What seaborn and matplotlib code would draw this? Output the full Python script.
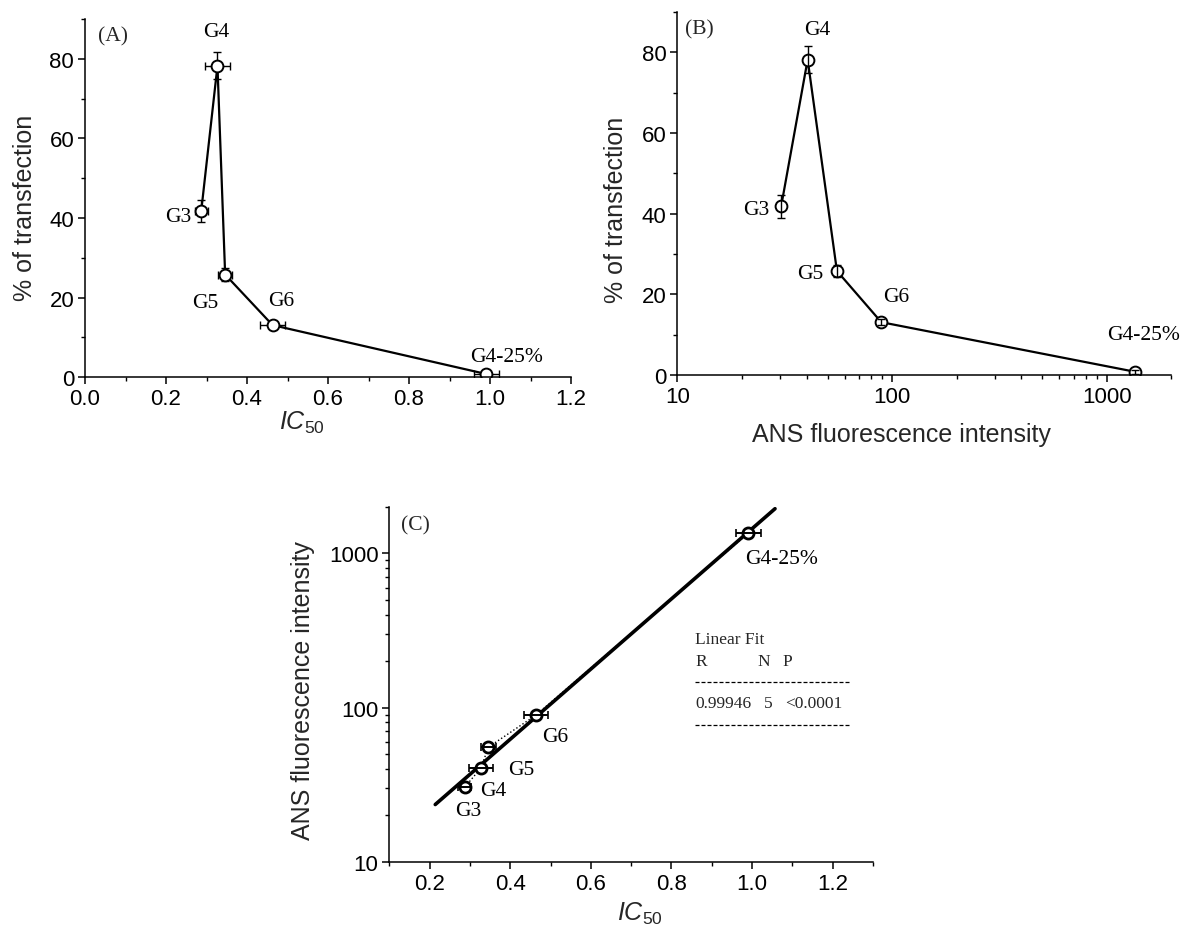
import numpy as np
import pandas as pd
import matplotlib
matplotlib.use("Agg")
import matplotlib.pyplot as plt
import matplotlib.ticker as mticker
import seaborn as sns

# ---- data -------------------------------------------------------------
labels = ["G3", "G4", "G5", "G6", "G4-25%"]
ic50 = [0.287, 0.327, 0.346, 0.463, 0.991]
ic50_err = [0.016, 0.030, 0.018, 0.030, 0.030]
transfection = [41.8, 78.2, 25.8, 13.1, 0.8]
transfection_err = [2.8, 3.4, 1.6, 0.8, 0.5]
ans_intensity = [30.4, 40.4, 55.3, 89.0, 1355.0]

fit_r = "0.99946"
fit_n = "5"
fit_p = "<0.0001"

df = pd.DataFrame({
    "label": labels,
    "ic50": ic50,
    "ic50_err": ic50_err,
    "trans": transfection,
    "trans_err": transfection_err,
    "ans": ans_intensity,
})

# ---- style ------------------------------------------------------------
sns.set_style("ticks")
plt.rcParams["font.family"] = ["Liberation Sans", "DejaVu Sans"]
plt.rcParams["mathtext.fontset"] = "custom"
plt.rcParams["mathtext.rm"] = "Liberation Sans"
plt.rcParams["mathtext.it"] = "Liberation Sans:italic"
plt.rcParams["axes.linewidth"] = 1.1
SERIF = ["Liberation Serif", "DejaVu Serif"]

TICK_FS = 16
LABEL_FS = 18
NOTE_FS = 15.5

fig = plt.figure(figsize=(11.84, 9.28), dpi=100)
axA = fig.add_axes([0.0718, 0.5924, 0.4105, 0.3861])
axB = fig.add_axes([0.5722, 0.5948, 0.4172, 0.3912])
axC = fig.add_axes([0.3288, 0.0704, 0.4085, 0.3822])


def style_axes(ax):
    sns.despine(ax=ax)
    ax.tick_params(which="major", direction="out", length=4.8, width=1.1,
                   labelsize=TICK_FS, pad=3, color="black", labelcolor="black")
    ax.tick_params(which="minor", direction="out", length=3.1, width=1.0,
                   color="black")
    for s in ("left", "bottom"):
        ax.spines[s].set_color("black")


def point_labels(ax, xs, ys, offsets):
    for name, x, y, (dx, dy) in zip(labels, xs, ys, offsets):
        ax.annotate(name, (x, y), xytext=(dx, dy), textcoords="offset pixels",
                    ha="center", va="center", fontsize=NOTE_FS,
                    family=SERIF, color="black")


marker_kw = dict(marker="o", markersize=8.5, markerfacecolor="white",
                 markeredgecolor="black", markeredgewidth=1.4)

# ---- (A) transfection vs IC50 ----------------------------------------
axA.errorbar(df["ic50"], df["trans"], xerr=df["ic50_err"], yerr=df["trans_err"],
             fmt="none", ecolor="black", elinewidth=1.0, capsize=3,
             capthick=1.0, zorder=1.5)
sns.lineplot(data=df, x="ic50", y="trans", sort=False, estimator=None,
             color="black", linewidth=1.6, ax=axA, zorder=2, **marker_kw)
axA.set_xlim(0, 1.2)
axA.set_ylim(0, 90)
axA.xaxis.set_major_locator(mticker.MultipleLocator(0.2))
axA.xaxis.set_minor_locator(mticker.MultipleLocator(0.1))
axA.xaxis.set_major_formatter(mticker.FormatStrFormatter("%.1f"))
axA.yaxis.set_major_locator(mticker.MultipleLocator(20))
axA.yaxis.set_minor_locator(mticker.MultipleLocator(10))
style_axes(axA)
axA.set_xlabel(r"$IC_{\mathit{50}}$", fontsize=LABEL_FS)
axA.set_ylabel("% of transfection", fontsize=LABEL_FS)
axA.xaxis.set_label_coords(0.446, -0.125)
axA.yaxis.set_label_coords(-0.1245, 0.476)
axA.xaxis.label.set_va("center")
axA.yaxis.label.set_va("center")
point_labels(axA, ic50, transfection,
             [(-23, -6), (-1, 34), (-20, -28), (9, 24.5), (20, 18)])
axA.text(0.027, 0.953, "(A)", transform=axA.transAxes, ha="left", va="center",
         fontsize=NOTE_FS, family=SERIF)

# ---- (B) transfection vs ANS fluorescence -----------------------------
sns.lineplot(data=df, x="ans", y="trans", sort=False, estimator=None,
             color="black", linewidth=1.6, ax=axB, zorder=2, **marker_kw)
axB.errorbar(df["ans"], df["trans"], yerr=df["trans_err"], fmt="none",
             ecolor="black", elinewidth=1.0, capsize=3, capthick=1.0, zorder=3)
axB.set_xscale("log")
axB.set_xlim(10, 2000)
axB.set_ylim(0, 90)
axB.xaxis.set_major_locator(mticker.LogLocator(base=10))
axB.xaxis.set_minor_locator(mticker.LogLocator(base=10, subs=np.arange(2, 10)))
axB.xaxis.set_major_formatter(mticker.FuncFormatter(lambda v, p: f"{v:g}"))
axB.xaxis.set_minor_formatter(mticker.NullFormatter())
axB.yaxis.set_major_locator(mticker.MultipleLocator(20))
axB.yaxis.set_minor_locator(mticker.MultipleLocator(10))
style_axes(axB)
axB.set_xlabel("ANS fluorescence intensity", fontsize=LABEL_FS)
axB.set_ylabel("% of transfection", fontsize=LABEL_FS)
axB.xaxis.set_label_coords(0.454, -0.162)
axB.yaxis.set_label_coords(-0.1235, 0.457)
axB.xaxis.label.set_va("center")
axB.yaxis.label.set_va("center")
point_labels(axB, ans_intensity, transfection,
             [(-25, -3), (9.5, 30), (-26.5, -2.5), (15, 26), (8.5, 37)])
axB.text(0.015, 0.954, "(B)", transform=axB.transAxes, ha="left", va="center",
         fontsize=NOTE_FS, family=SERIF)

# ---- (C) ANS fluorescence vs IC50 with log-linear fit ----------------
slope, intercept = np.polyfit(df["ic50"], np.log10(df["ans"]), 1)
fit_x = np.linspace(0.214, 1.057, 50)
fit_df = pd.DataFrame({"x": fit_x, "y": 10 ** (intercept + slope * fit_x)})
sns.lineplot(data=fit_df, x="x", y="y", color="black", linewidth=2.6,
             ax=axC, zorder=2)
marker_c = dict(marker_kw, markeredgewidth=2.0, markersize=8.0)
sns.lineplot(data=df, x="ic50", y="ans", sort=False, estimator=None,
             color="black", linewidth=1.0, linestyle=":", ax=axC, zorder=2.2,
             **marker_c)
axC.errorbar(df["ic50"], df["ans"], xerr=df["ic50_err"], fmt="none",
             ecolor="black", elinewidth=1.4, capsize=3, capthick=1.2, zorder=3)
axC.set_yscale("log")
axC.set_xlim(0.1, 1.3)
axC.set_ylim(10, 2000)
axC.xaxis.set_major_locator(mticker.FixedLocator([0.2, 0.4, 0.6, 0.8, 1.0, 1.2]))
axC.xaxis.set_minor_locator(mticker.MultipleLocator(0.1))
axC.xaxis.set_major_formatter(mticker.FormatStrFormatter("%.1f"))
axC.yaxis.set_major_locator(mticker.LogLocator(base=10))
axC.yaxis.set_minor_locator(mticker.LogLocator(base=10, subs=np.arange(2, 10)))
axC.yaxis.set_major_formatter(mticker.FuncFormatter(lambda v, p: f"{v:g}"))
axC.yaxis.set_minor_formatter(mticker.NullFormatter())
style_axes(axC)
axC.set_xlabel(r"$IC_{\mathit{50}}$", fontsize=LABEL_FS)
axC.set_ylabel("ANS fluorescence intensity", fontsize=LABEL_FS)
axC.xaxis.set_label_coords(0.518, -0.145)
axC.yaxis.set_label_coords(-0.179, 0.485)
axC.xaxis.label.set_va("center")
axC.yaxis.label.set_va("center")
point_labels(axC, ic50, ans_intensity,
             [(3.5, -23), (12.5, -22), (33, -22), (20, -21), (33.5, -25.5)])
axC.text(0.024, 0.95, "(C)", transform=axC.transAxes, ha="left", va="center",
         fontsize=NOTE_FS, family=SERIF)

# fit summary table
TBL_FS = 12.5
tx = 0.632
axC.text(tx, 0.628, "Linear Fit", transform=axC.transAxes, ha="left",
         va="center", fontsize=TBL_FS, family=SERIF)
axC.text(tx, 0.567, "R", transform=axC.transAxes, ha="left", va="center",
         fontsize=TBL_FS, family=SERIF)
axC.text(0.774, 0.567, "N", transform=axC.transAxes, ha="center", va="center",
         fontsize=TBL_FS, family=SERIF)
axC.text(0.823, 0.567, "P", transform=axC.transAxes, ha="center", va="center",
         fontsize=TBL_FS, family=SERIF)
axC.text(tx, 0.447, fit_r, transform=axC.transAxes, ha="left", va="center",
         fontsize=TBL_FS, family=SERIF)
axC.text(0.783, 0.447, fit_n, transform=axC.transAxes, ha="center", va="center",
         fontsize=TBL_FS, family=SERIF)
axC.text(0.819, 0.447, fit_p, transform=axC.transAxes, ha="left", va="center",
         fontsize=TBL_FS, family=SERIF)
for yy in (0.506, 0.386):
    axC.plot([tx, 0.954], [yy, yy], transform=axC.transAxes, color="black",
             linewidth=0.9, linestyle=(0, (3.2, 1.6)))

fig.savefig("out.png", dpi=100)
